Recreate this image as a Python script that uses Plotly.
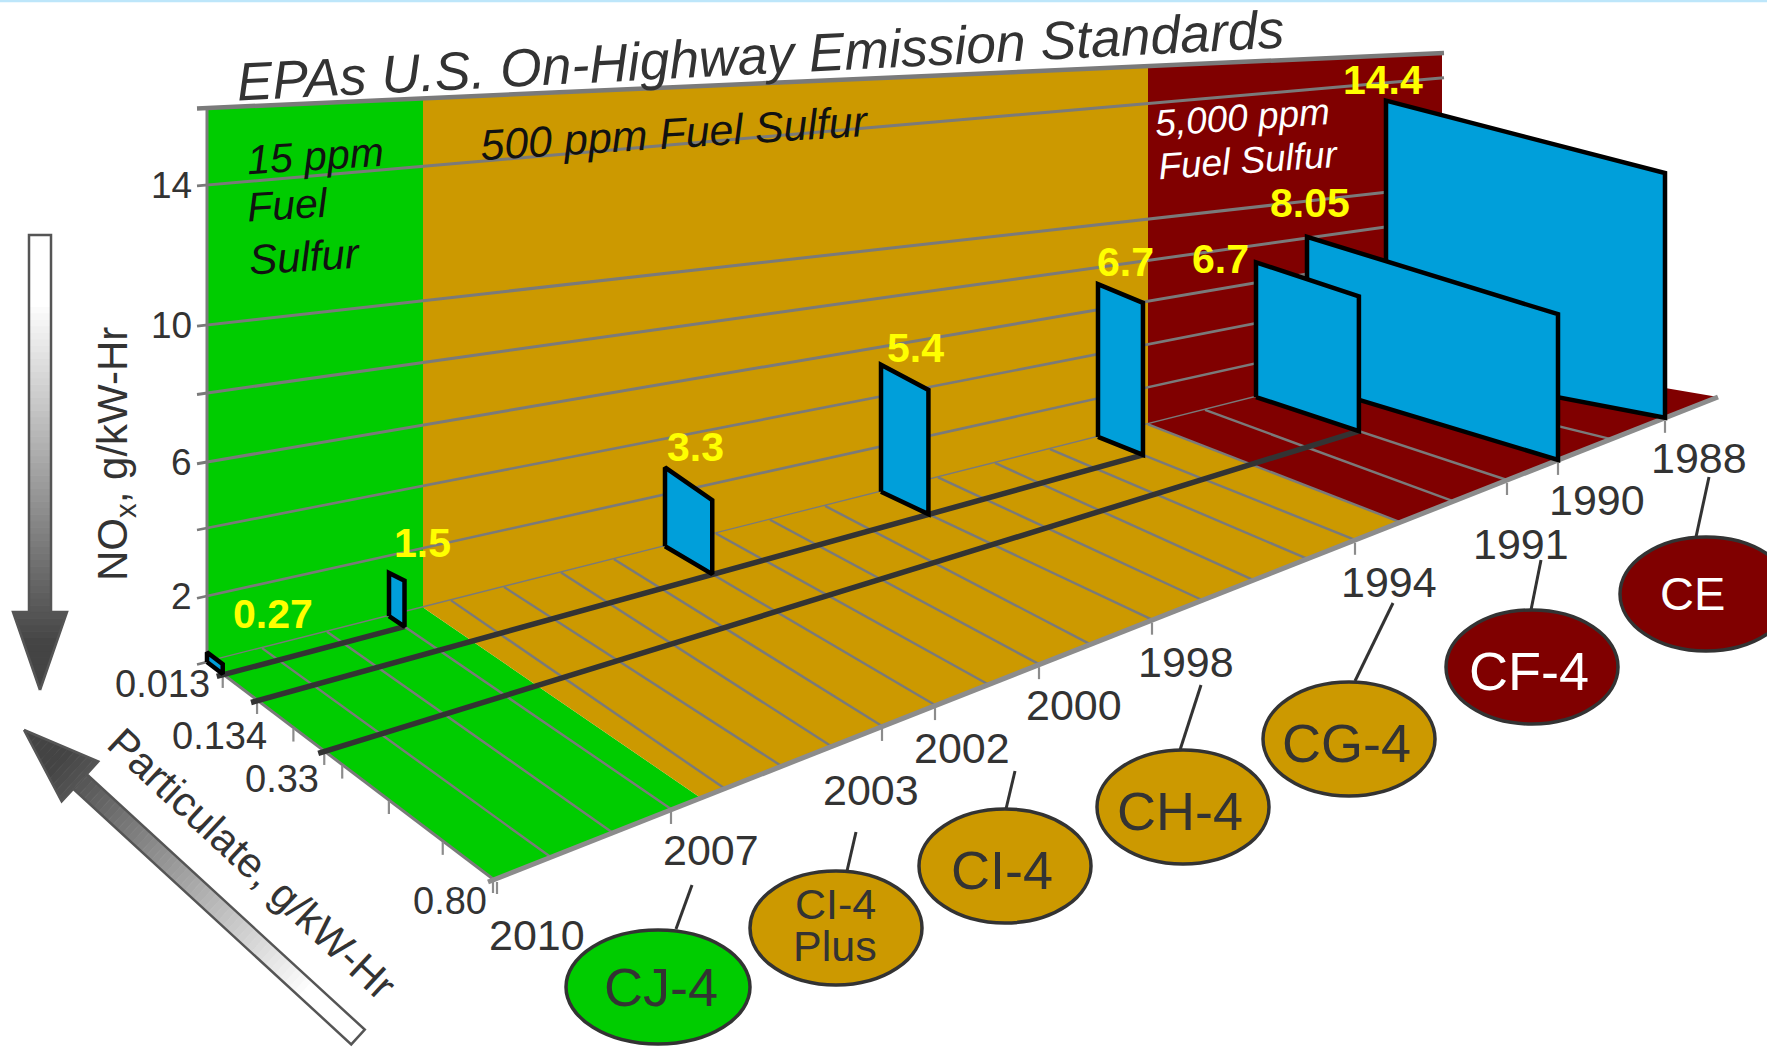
import numpy as np
import plotly.graph_objects as go

# ---- chart data -------------------------------------------------------------
PANEL_YEAR = [1988, 1990, 1991, 1994, 1998, 2002, 2007, 2010]
PANEL_NOX = [14.4, 8.05, 6.7, 6.7, 5.4, 3.3, 1.5, 0.27]
PANEL_PM = [0.80, 0.80, 0.33, 0.134, 0.134, 0.134, 0.013, 0.013]

YEAR_TICKS = [2010, 2007, 2003, 2002, 2000, 1998, 1994, 1991, 1990, 1988]
PM_TICKS = [0.013, 0.134, 0.33, 0.80]
PM_MINOR = [0.24, 0.38, 0.51, 0.66]
NOX_LABELS = [14, 10, 6, 2]
NOX_LEVELS = [0, 2, 4, 6, 8, 10, 14, 16]

ENGINE_CLASS = ["CE", "CF-4", "CG-4", "CH-4", "CI-4", "CI-4 Plus", "CJ-4"]
ENGINE_YEAR = [1988, 1991, 1994, 1998, 2002, 2003, 2007]
FUEL_BANDS = [("15 ppm", 2010, 2006.45), ("500 ppm", 2006.45, 1993), ("5,000 ppm", 1993, 1987)]
# PM limit rails: PM value, first year, last year
PM_RAILS = [(0.013, 2010.1, 2007), (0.134, 2010.1, 1994), (0.33, 2010.1, 1991)]

# ---- oblique projection scales ---------------------------------------------
AXIS_YEARS = np.arange(1987, 2011)
BACK_X = [1442, 1386, 1346, 1307, 1256, 1205, 1148, 1098, 1050, 995, 938, 881, 825, 770,
          716, 665, 614, 561, 504, 451, 389, 327, 262, 207]
FRONT_X = [1718, 1665, 1611, 1558, 1507, 1453, 1400, 1355, 1307, 1253, 1202, 1152, 1090, 1039,
           988, 935, 882, 831, 781, 724, 671, 612, 550, 493]
PM_STOPS = [0, 0.013, 0.134, 0.33, 0.80]
PM_DEPTH = [0, 0.055, 0.175, 0.41, 1.0]
WALL_LEFT_Y = [662, 596, 528, 462, 393, 325, 185, 108]
WALL_RIGHT_Y = [350, 322, 287, 251, 219, 186, 78, 53]
PANEL_SCALE_YEARS = [1988, 1990, 1991, 1994, 1998, 2002, 2007, 2010]
PANEL_SCALE_BACK = [18.3, 18.3, 20.1, 22.8, 23.5, 23.9, 28.7, 36.0]
PANEL_SCALE_FRONT = [17.0, 18.1, 20.1, 22.7, 23.0, 22.4, 30.6, 36.0]

GREEN, GOLD, MAROON = "#00CC00", "#CC9900", "#800000"
BLUE = "#009FDA"
GRID = "#7A7A7A"
INK = "#333333"
FONT = "Liberation Sans"


def back_pt(year):
    x = np.interp(year, AXIS_YEARS, BACK_X)
    return x, 662 - 0.2526 * (x - 207)


def front_pt(year):
    x = np.interp(year, AXIS_YEARS, FRONT_X)
    return x, 879 - 0.3935 * (x - 493)


def floor_pt(year, pm):
    v = np.interp(pm, PM_STOPS, PM_DEPTH)
    bx, by = back_pt(year)
    fx, fy = front_pt(year)
    return bx + (fx - bx) * v, by + (fy - by) * v


def wall_y(x, level):
    t = (x - 207) / (1442 - 207)
    left = np.interp(level, NOX_LEVELS, WALL_LEFT_Y)
    right = np.interp(level, NOX_LEVELS, WALL_RIGHT_Y)
    return left + (right - left) * t


fig = go.Figure()
notes = []


def poly(xs, ys, fill, line=None, width=0):
    fig.add_trace(go.Scatter(x=list(xs) + [xs[0]], y=list(ys) + [ys[0]], mode="lines", fill="toself",
                             fillcolor=fill, line=dict(color=line or fill, width=width),
                             hoverinfo="skip", showlegend=False))


def seg(xs, ys, color=GRID, width=2.0):
    fig.add_trace(go.Scatter(x=list(xs), y=list(ys), mode="lines", line=dict(color=color, width=width),
                             hoverinfo="skip", showlegend=False))


def text(x, y, s, size, color=INK, angle=0, bold=False, italic=False):
    if italic:
        s = f"<i>{s}</i>"
    if bold:
        s = f"<b>{s}</b>"
    notes.append(dict(x=x, y=y, text=s, showarrow=False, textangle=angle, xanchor="center", yanchor="middle",
                      font=dict(family=FONT, size=size, color=color)))


def gradient_arrow(tip, tail, shaft_hw, head_hw, head_len, n=70):
    """Block arrow shaded from dark at the tip to white at the tail."""
    tip, tail = np.array(tip, float), np.array(tail, float)
    length = np.hypot(*(tail - tip))
    d = (tail - tip) / length
    nrm = np.array([-d[1], d[0]])

    def hw(s):
        return head_hw * s / head_len if s < head_len else shaft_hw

    cuts = sorted(set(list(np.linspace(0, length, n + 1)) + [head_len - 1e-3, head_len]))
    for a, b in zip(cuts[:-1], cuts[1:]):
        if b - a < 0.01:
            continue
        g = float(np.clip(((a + b) / 2 / length - 0.1) / 0.75, 0, 1))
        c = int(0x44 + (0xFF - 0x44) * g)
        col = f"rgb({c},{c},{c})"
        ha, hb = hw(a + 1e-6), hw(b - 1e-6)
        pts = [tip + d * a + nrm * ha, tip + d * b + nrm * hb, tip + d * b - nrm * hb, tip + d * a - nrm * ha]
        poly([p[0] for p in pts], [p[1] for p in pts], col, col, 0.8)
    c = tip + d * head_len
    e = tail
    outline = [tip, c + nrm * head_hw, c + nrm * shaft_hw, e + nrm * shaft_hw, e - nrm * shaft_hw,
               c - nrm * shaft_hw, c - nrm * head_hw, tip]
    seg([p[0] for p in outline], [p[1] for p in outline], "#555555", 2.5)


# ---- page strip -------------------------------------------------------------
poly([0, 1767, 1767, 0], [0, 0, 2.2, 2.2], "#BDE6FA")

# ---- back wall --------------------------------------------------------------
for (name, y0, y1), col in zip(FUEL_BANDS, [GREEN, GOLD, MAROON]):
    x0, x1 = back_pt(y0)[0], back_pt(y1)[0]
    if name == "15 ppm":
        x0 = 207
    if name == "500 ppm":
        x0 = 423
    if name == "15 ppm":
        x1 = 423
    poly([x0, x1, x1, x0], [wall_y(x0, 16), wall_y(x1, 16), wall_y(x1, 0), wall_y(x0, 0)], col)

for lev in NOX_LEVELS:
    w = 4.5 if lev == 16 else 3 if lev >= 6 else 2.6
    seg([197, 1444], [wall_y(197, lev), wall_y(1444, lev)], GRID, w)

# ---- floor ------------------------------------------------------------------
for (name, y0, y1), col in zip(FUEL_BANDS, [GREEN, GOLD, MAROON]):
    p = [back_pt(y0), back_pt(y1), front_pt(y1), front_pt(y0)]
    poly([q[0] for q in p], [q[1] for q in p], col)

for yr in AXIS_YEARS[1:-1]:
    b, f = back_pt(yr), front_pt(yr)
    seg([b[0], f[0]], [b[1], f[1]], GRID, 2.4)

# axis edges and ticks
seg([207, 207], [wall_y(207, 16), wall_y(207, 0)], GRID, 3)
b, f = back_pt(2010), front_pt(2010)
seg([b[0], f[0]], [b[1], f[1]], GRID, 3)
seg([front_pt(2010)[0] - 5, front_pt(1987)[0]], [front_pt(2010)[1] + 3, front_pt(1987)[1]], "#8C8C8C", 5)

for yr in YEAR_TICKS:
    x, y = front_pt(yr)
    seg([x + 4 if yr == 2010 else x, x + 4 if yr == 2010 else x], [y + 3, y + 15], "#8C8C8C", 2.2)
for pm in PM_TICKS + PM_MINOR:
    x, y = floor_pt(2010, pm)
    seg([x, x], [y + 1, y + 14], "#8C8C8C", 2.2)

# ---- PM limit rails ---------------------------------------------------------
for pm, y0, y1 in PM_RAILS:
    a, c = floor_pt(y0, pm), floor_pt(y1, pm)
    seg([a[0] - 6, c[0]], [a[1] + 2.5, c[1]], INK, 5.5)

# ---- standards panels, far ones first ---------------------------------------
LABEL_SHIFT = {2010: (66, -38), 2007: (33, -30), 2002: (30, -20), 1998: (34, -17), 1994: (27, -22),
               1991: (-36, -3), 1990: (3, -34), 1988: (-3, -21)}
for yr, nox, pm in zip(PANEL_YEAR, PANEL_NOX, PANEL_PM):
    bx, by = back_pt(yr)
    fx, fy = floor_pt(yr, pm)
    tb = by - nox * np.interp(yr, PANEL_SCALE_YEARS, PANEL_SCALE_BACK)
    tf = fy - nox * np.interp(yr, PANEL_SCALE_YEARS, PANEL_SCALE_FRONT)
    poly([bx, fx, fx, bx], [by, fy, tf, tb], BLUE, "#000000", 4.5)
    dx, dy = LABEL_SHIFT[yr]
    text(bx + dx, tb + dy, f"{nox:g}", 41, "#FFFF00", bold=True)

# ---- engine class badges ----------------------------------------------------
BADGE_CENTRE = {"CE": (1706, 594), "CF-4": (1532, 667), "CG-4": (1349, 739), "CH-4": (1183, 807),
                "CI-4": (1005, 866), "CI-4 Plus": (836, 928), "CJ-4": (658, 987)}
LEADER = {"CE": (1709, 477, 1696, 537), "CF-4": (1541, 560, 1531, 610), "CG-4": (1393, 603, 1355, 681),
          "CH-4": (1201, 685, 1180, 750), "CI-4": (1015, 771, 1006, 809),
          "CI-4 Plus": (856, 832, 847, 871), "CJ-4": (692, 885, 676, 929)}
shapes = []
for cls, yr in zip(ENGINE_CLASS, ENGINE_YEAR):
    cx, cy = BADGE_CENTRE[cls]
    x0, y0, x1, y1 = LEADER[cls]
    seg([x0, x1], [y0, y1], INK, 3)
    fill = MAROON if yr <= 1993 else GOLD if yr < 2007 else GREEN
    rx = 92 if cls == "CJ-4" else 86
    shapes.append(dict(type="circle", xref="x", yref="y", x0=cx - rx, x1=cx + rx, y0=cy - 57, y1=cy + 57,
                       fillcolor=fill, line=dict(color=INK, width=3.5), layer="above"))
    colour = "#FFFFFF" if yr <= 1993 else INK
    if cls == "CI-4 Plus":
        text(cx - 1, 904, "CI-4", 43, colour)
        text(cx - 1, 946, "Plus", 43, colour)
    elif cls == "CE":
        text(1692, 593, cls, 47, colour)
    else:
        text(cx + (3 if cls == "CJ-4" else -3), cy + (0 if cls == "CJ-4" else 4), cls, 54, colour)

# ---- axis labels ------------------------------------------------------------
YEAR_SHIFT = {2010: (44, 56), 2007: (40, 41), 2003: (-11, 64), 2002: (27, 43), 2000: (35, 41), 1998: (34, 42),
              1994: (34, 42), 1991: (14, 64), 1990: (39, 40), 1988: (34, 40)}
for yr in YEAR_TICKS:
    x, y = front_pt(yr)
    dx, dy = YEAR_SHIFT[yr]
    text(x + dx, y + dy, str(yr), 43)

for lev in NOX_LABELS:
    text(191 - 9.7 * len(str(lev)), wall_y(207, lev), str(lev), 37)

PM_SHIFT = {0.013: (-60, 10), 0.134: (-38, 36), 0.33: (-42, 28), 0.80: (-43, 22)}
for pm in PM_TICKS:
    x, y = floor_pt(2010, pm)
    dx, dy = PM_SHIFT[pm]
    text(x + dx, y + dy, f"{pm:.3f}".rstrip("0") if pm != 0.80 else "0.80", 38)

text(115, 454, "NO<sub>x</sub>, g/kW-Hr", 42, angle=-90)
text(252, 863, "Particulate, g/kW-Hr", 42, angle=43)

# ---- direction arrows -------------------------------------------------------
gradient_arrow((40, 690), (40, 235), 11, 27, 78)
gradient_arrow((24, 730), (358, 1037), 10, 27, 76)

# ---- wall captions ----------------------------------------------------------
text(760, 55, "EPAs U.S. On-Highway Emission Standards", 53.5, angle=-2.9, italic=True)
text(315, 156, "15 ppm", 41, "#111111", angle=-3.5, italic=True)
text(288, 205, "Fuel", 41, "#111111", angle=-3.5, italic=True)
text(305, 256, "Sulfur", 42, "#111111", angle=-3.5, italic=True)
text(674, 133, "500 ppm Fuel Sulfur", 43, "#111111", angle=-3.6, italic=True)
text(1242, 117, "5,000 ppm", 37, "#FFFFFF", angle=-4, italic=True)
text(1248, 160, "Fuel Sulfur", 37, "#FFFFFF", angle=-4, italic=True)

fig.update_layout(width=1767, height=1048, margin=dict(l=0, r=0, t=0, b=0), paper_bgcolor="white",
                  plot_bgcolor="white", showlegend=False, annotations=notes, shapes=shapes,
                  xaxis=dict(range=[0, 1767], visible=False, fixedrange=True),
                  yaxis=dict(range=[1048, 0], visible=False, fixedrange=True))
fig.write_html("out.html", config=dict(displayModeBar=False))
